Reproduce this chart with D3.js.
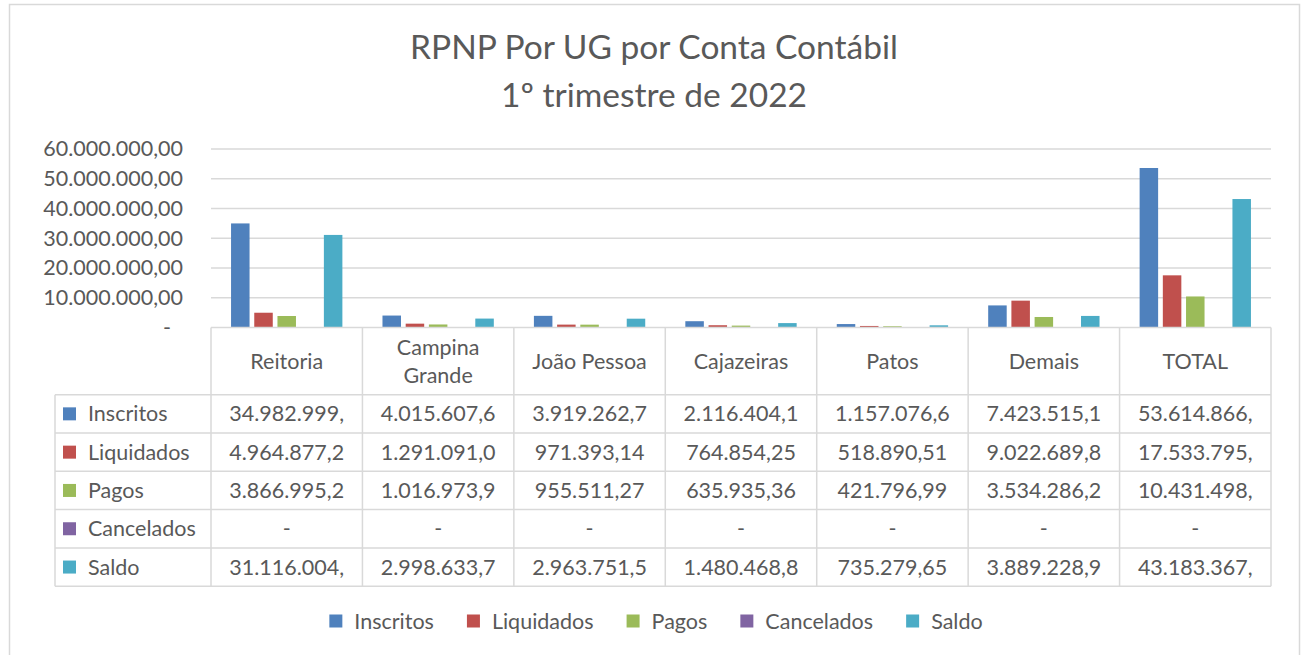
<!DOCTYPE html>
<html>
<head>
<meta charset="utf-8">
<script src="https://cdn.jsdelivr.net/npm/d3@7"></script>
<style>
  html, body { margin: 0; padding: 0; background: #fff; }
  svg { display: block; font-family: Lato, "Open Sans", sans-serif; }
  text { fill: #595959; }
</style>
</head>
<body>
<svg id="chart" width="1303" height="655"></svg>
<script>
// Unidades gestoras (colunas da tabela)
const categories = ["Reitoria", "Campina Grande", "João Pessoa", "Cajazeiras", "Patos", "Demais", "TOTAL"];

// Séries por conta contábil (R$)
const seriesNames = ["Inscritos", "Liquidados", "Pagos", "Cancelados", "Saldo"];
const inscritos  = [34982999.85, 4015607.62, 3919262.78, 2116404.19, 1157076.64, 7423515.15, 53614866.23];
const liquidados = [4964877.21, 1291091.03, 971393.14, 764854.25, 518890.51, 9022689.81, 17533795.95];
const pagos      = [3866995.22, 1016973.91, 955511.27, 635935.36, 421796.99, 3534286.21, 10431498.96];
const cancelados = [0, 0, 0, 0, 0, 0, 0];
const saldo      = [31116004.63, 2998633.71, 2963751.51, 1480468.83, 735279.65, 3889228.94, 43183367.27];
const seriesValues = [inscritos, liquidados, pagos, cancelados, saldo];
const seriesColors = ["#4f81bd", "#c0504d", "#9bbb59", "#8064a2", "#4bacc6"];

// Eixo de valores
const yTicks = [0, 10000000, 20000000, 30000000, 40000000, 50000000, 60000000];

const titleLines = ["RPNP Por UG por Conta Contábil", "1º trimestre de 2022"];

const W = 1303, H = 655;
const grid = "#d9d9d9";
const plot = { left: 211, right: 1271, top: 149, bottom: 327.5 };
const table = { left: 55, headerBottom: 394.7, rowH: 38.3 };
const fontSize = 21.5;

const svg = d3.select("#chart");

const ptBR = d3.formatLocale({ decimal: ",", thousands: ".", grouping: [3], currency: ["R$", ""] });
const fmt2 = ptBR.format(",.2f");

// Moldura externa
svg.append("rect")
  .attr("x", 9.5).attr("y", 4.5)
  .attr("width", 1290).attr("height", 700)
  .attr("fill", "none").attr("stroke", grid).attr("stroke-width", 1.5);

// Título
svg.append("g").selectAll("text").data(titleLines).join("text")
  .attr("x", 654).attr("y", (d, i) => 59 + i * 48)
  .attr("text-anchor", "middle")
  .style("font-size", "33.5px")
  .text(d => d);

// Escalas
const x = d3.scaleBand().domain(categories).range([plot.left, plot.right]).padding(0);
const xs = d3.scaleBand().domain(seriesNames).range([0, x.bandwidth()])
  .paddingInner(0.2026).paddingOuter(0.864);
const y = d3.scaleLinear().domain([0, 60000000]).range([plot.bottom, plot.top]);

// Linhas de grade
svg.append("g").selectAll("line").data(yTicks.filter(t => t > 0)).join("line")
  .attr("x1", plot.left).attr("x2", plot.right)
  .attr("y1", d => y(d)).attr("y2", d => y(d))
  .attr("stroke", grid).attr("stroke-width", 1.5);

// Eixo Y
const yAxis = d3.axisLeft(y).tickValues(yTicks).tickSize(0).tickPadding(0)
  .tickFormat(d => d === 0 ? "-" : fmt2(d));
const gy = svg.append("g").attr("transform", "translate(183,0)").call(yAxis);
gy.select(".domain").remove();
gy.selectAll("text")
  .style("font-family", "Lato, 'Open Sans', sans-serif")
  .style("font-size", fontSize + "px")
  .attr("fill", "#595959")
  .attr("dx", d => d === 0 ? -12 : 0);

// Barras
const gBars = svg.append("g");
seriesNames.forEach((name, si) => {
  gBars.append("g").attr("fill", seriesColors[si])
    .selectAll("rect").data(categories.map((c, i) => ({ c, v: seriesValues[si][i] })))
    .join("rect")
    .attr("x", d => x(d.c) + xs(name))
    .attr("width", xs.bandwidth())
    .attr("y", d => y(d.v))
    .attr("height", d => y(0) - y(d.v));
});

// Tabela de dados
const gT = svg.append("g");
const bodyTop = table.headerBottom;
const bodyBottom = bodyTop + table.rowH * seriesNames.length;
const colEdges = categories.map(c => x(c)).concat([plot.right]);

// Linhas horizontais
gT.append("line").attr("x1", plot.left).attr("x2", plot.right)
  .attr("y1", plot.bottom).attr("y2", plot.bottom);
d3.range(seriesNames.length + 1).forEach(i => {
  gT.append("line").attr("x1", table.left).attr("x2", plot.right)
    .attr("y1", bodyTop + i * table.rowH).attr("y2", bodyTop + i * table.rowH);
});
// Linhas verticais
colEdges.forEach(cx => {
  gT.append("line").attr("x1", cx).attr("x2", cx)
    .attr("y1", plot.bottom).attr("y2", bodyBottom);
});
gT.append("line").attr("x1", table.left).attr("x2", table.left)
  .attr("y1", bodyTop).attr("y2", bodyBottom);
gT.selectAll("line").attr("stroke", grid).attr("stroke-width", 1.5);

// Largura útil de cada célula: textos maiores são quebrados ou cortados
const maxCell = 122;
const measurer = svg.append("text").style("font-size", fontSize + "px").attr("opacity", 0);
function textW(s) { measurer.text(s); return measurer.node().getComputedTextLength(); }
function wrap(label) {
  const words = label.split(" ");
  const lines = [];
  let cur = "";
  words.forEach(w => {
    const t = cur ? cur + " " + w : w;
    if (cur && textW(t) > maxCell) { lines.push(cur); cur = w; } else cur = t;
  });
  lines.push(cur);
  return lines;
}
function clip(s) {
  while (s.length > 1 && textW(s) > maxCell) s = s.slice(0, -1);
  return s;
}

// Cabeçalho
const headerMid = (plot.bottom + table.headerBottom) / 2;
categories.forEach(c => {
  const lines = wrap(c);
  const lh = 28;
  const t = gT.append("text")
    .attr("x", x(c) + x.bandwidth() / 2)
    .attr("text-anchor", "middle")
    .style("font-size", fontSize + "px");
  lines.forEach((ln, i) => {
    t.append("tspan")
      .attr("x", x(c) + x.bandwidth() / 2)
      .attr("y", headerMid + (i - (lines.length - 1) / 2) * lh)
      .attr("dy", "0.35em")
      .text(ln);
  });
});

// Linhas de valores com chave de cor
seriesNames.forEach((name, si) => {
  const cy = bodyTop + (si + 0.5) * table.rowH;
  gT.append("rect").attr("x", 63).attr("y", cy - 6.5)
    .attr("width", 13).attr("height", 13).attr("fill", seriesColors[si]);
  gT.append("text").attr("x", 88).attr("y", cy).attr("dy", "0.35em")
    .style("font-size", fontSize + "px").text(name);
  categories.forEach((c, ci) => {
    const v = seriesValues[si][ci];
    gT.append("text")
      .attr("x", x(c) + x.bandwidth() / 2).attr("y", cy).attr("dy", "0.35em")
      .attr("text-anchor", "middle")
      .style("font-size", fontSize + "px")
      .text(v === 0 ? "-" : clip(fmt2(v)));
  });
});

// Legenda inferior
const gL = svg.append("g");
const legY = 621;
const items = seriesNames.map(n => ({ n, w: textW(n) }));
const sq = 13, gapText = 12, gapItem = 33;
const totalW = d3.sum(items, d => sq + gapText + d.w) + gapItem * (items.length - 1);
let lx = 656 - totalW / 2;
items.forEach((it, i) => {
  gL.append("rect").attr("x", lx).attr("y", legY - sq / 2)
    .attr("width", sq).attr("height", sq).attr("fill", seriesColors[i]);
  gL.append("text").attr("x", lx + sq + gapText).attr("y", legY).attr("dy", "0.35em")
    .style("font-size", fontSize + "px").text(it.n);
  lx += sq + gapText + it.w + gapItem;
});
measurer.remove();
</script>
</body>
</html>
